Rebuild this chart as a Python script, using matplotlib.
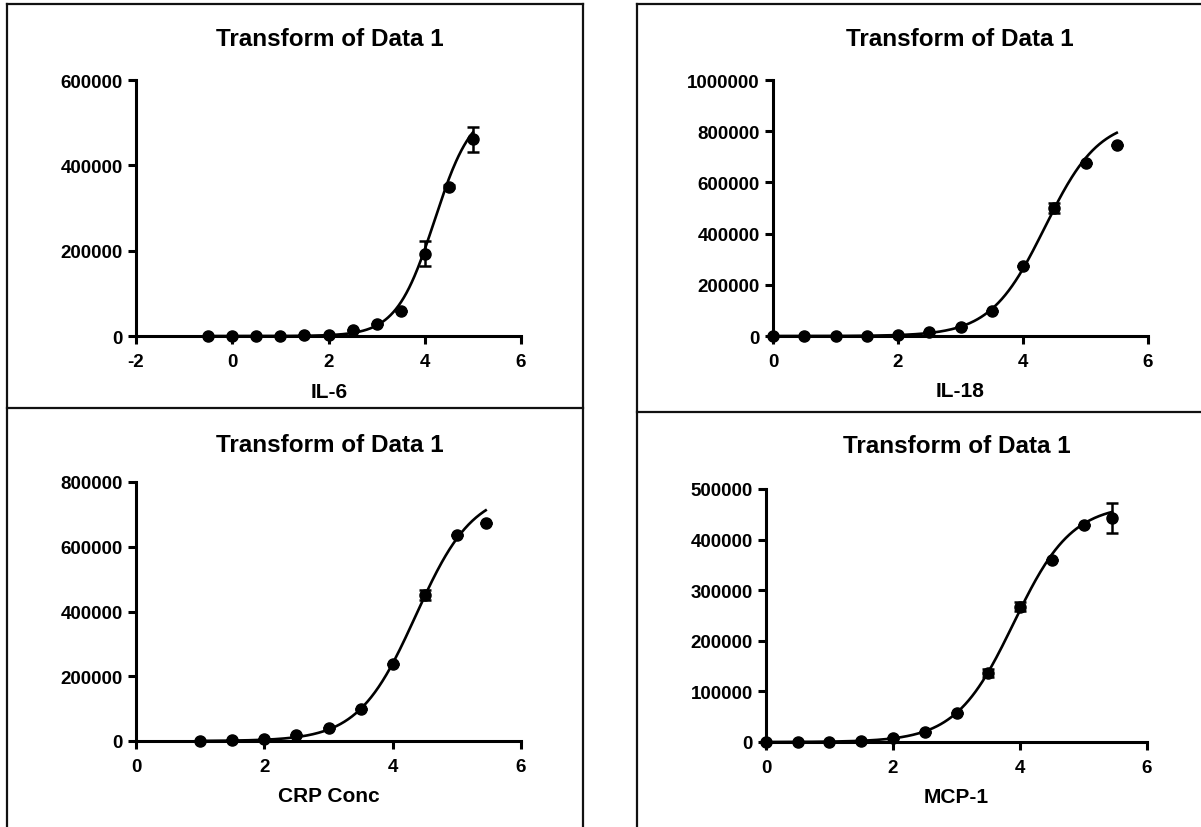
import numpy as np
import matplotlib
matplotlib.use('Agg')
import matplotlib.pyplot as plt
from matplotlib.lines import Line2D

plt.rcParams['font.family'] = ['Liberation Sans', 'DejaVu Sans']
plt.rcParams['font.weight'] = 'bold'

# ---------------- data ----------------
title_text = "Transform of Data 1"

il6_x = [-0.5, 0, 0.5, 1, 1.5, 2, 2.5, 3, 3.5, 4, 4.5, 5]
il6_y = [300, 400, 600, 900, 1500, 3500, 14000, 28000, 58000, 193000, 350000, 461000]
il6_err = [0, 0, 0, 0, 0, 0, 0, 0, 0, 30000, 4000, 30000]
il6_fit = dict(bottom=0, top=540000, logec50=4.2, hill=1.1)

il18_x = [0, 0.5, 1, 1.5, 2, 2.5, 3, 3.5, 4, 4.5, 5, 5.5]
il18_y = [200, 300, 500, 1000, 3000, 14000, 36000, 99000, 273000, 500000, 676000, 746000]
il18_err = [0, 0, 0, 0, 0, 0, 0, 0, 0, 18000, 0, 0]
il18_fit = dict(bottom=0, top=850000, logec50=4.35, hill=1.0)

crp_x = [1, 1.5, 2, 2.5, 3, 3.5, 4, 4.5, 5, 5.45]
crp_y = [1000, 2500, 6000, 18000, 40000, 99000, 237000, 450000, 636000, 674000]
crp_err = [0, 0, 0, 0, 0, 0, 0, 16000, 0, 0]
crp_fit = dict(bottom=0, top=775000, logec50=4.36, hill=0.97)

mcp1_x = [0, 0.5, 1, 1.5, 2, 2.5, 3, 3.5, 4, 4.5, 5, 5.45]
mcp1_y = [200, 400, 700, 2500, 8000, 20000, 58000, 136000, 267000, 360000, 429000, 443000]
mcp1_err = [0, 0, 0, 0, 0, 0, 0, 8000, 9000, 0, 0, 30000]
mcp1_fit = dict(bottom=0, top=470000, logec50=3.9, hill=0.95)

panels = [
    dict(x=il6_x, y=il6_y, err=il6_err, fit=il6_fit, xlabel="IL-6", xlim=(-2, 6), xticks=[-2, 0, 2, 4, 6],
         ylim=(0, 600000), yticks=[0, 200000, 400000, 600000],
         px=(136, 521, 337, 81), title_pos=(330, 40), xlabel_pos=(329, 393)),
    dict(x=il18_x, y=il18_y, err=il18_err, fit=il18_fit, xlabel="IL-18", xlim=(0, 6), xticks=[0, 2, 4, 6],
         ylim=(0, 1000000), yticks=[0, 200000, 400000, 600000, 800000, 1000000],
         px=(773, 1148, 337, 81), title_pos=(960, 40), xlabel_pos=(960, 392)),
    dict(x=crp_x, y=crp_y, err=crp_err, fit=crp_fit, xlabel="CRP Conc", xlim=(0, 6), xticks=[0, 2, 4, 6],
         ylim=(0, 800000), yticks=[0, 200000, 400000, 600000, 800000],
         px=(136, 521, 742, 483), title_pos=(330, 445), xlabel_pos=(329, 797)),
    dict(x=mcp1_x, y=mcp1_y, err=mcp1_err, fit=mcp1_fit, xlabel="MCP-1", xlim=(0, 6), xticks=[0, 2, 4, 6],
         ylim=(0, 500000), yticks=[0, 100000, 200000, 300000, 400000, 500000],
         px=(766, 1147, 743, 490), title_pos=(957, 447), xlabel_pos=(956, 798)),
]

W, H = 1201, 828


def four_pl(xs, bottom, top, logec50, hill):
    return bottom + (top - bottom) / (1.0 + 10 ** ((logec50 - xs) * hill))


fig = plt.figure(figsize=(W / 100, H / 100), dpi=100)

lw_axis = 2.2
for p in panels:
    x0, x1, yb, yt = p['px']
    ax = fig.add_axes([x0 / W, 1 - yb / H, (x1 - x0) / W, (yb - yt) / H])
    xs = np.linspace(min(p['x']), max(p['x']), 300)
    ax.plot(xs, four_pl(xs, **p['fit']), color='black', lw=1.9, zorder=3, clip_on=False)
    ax.errorbar(p['x'], p['y'], yerr=p['err'], fmt='o', color='black', ms=8,
                elinewidth=1.8, capsize=4.5, capthick=1.8, zorder=4, clip_on=False)
    ax.set_xlim(*p['xlim'])
    ax.set_ylim(*p['ylim'])
    ax.set_xticks(p['xticks'])
    ax.set_yticks(p['yticks'])
    ax.set_xticklabels([str(t) for t in p['xticks']])
    ax.set_yticklabels([str(t) for t in p['yticks']])
    for s in ('top', 'right'):
        ax.spines[s].set_visible(False)
    for s in ('left', 'bottom'):
        ax.spines[s].set_linewidth(lw_axis)
        ax.spines[s].set_capstyle('projecting')
    ax.tick_params(axis='both', direction='out', length=6, width=lw_axis,
                   labelsize=13.5, colors='black')
    ax.tick_params(axis='x', pad=6)
    ax.tick_params(axis='y', pad=3.5)
    for lab in ax.get_xticklabels() + ax.get_yticklabels():
        lab.set_fontweight('bold')
    ax.patch.set_alpha(0)
    tx, ty = p['title_pos']
    fig.text(tx / W, 1 - ty / H, title_text, ha='center', va='center',
             fontsize=17.5, fontweight='bold')
    lx, ly = p['xlabel_pos']
    fig.text(lx / W, 1 - ly / H, p['xlabel'], ha='center', va='center',
             fontsize=15, fontweight='bold')

# panel frame lines (pixel coordinates)
frame_lines = [
    ((7, 7), (5, 828)), ((7, 583), (5, 5)), ((583, 583), (5, 828)), ((7, 583), (409, 409)),
    ((637, 637), (5, 828)), ((637, 1201), (5, 5)), ((637, 1201), (413, 413)),
]
for (xa, xb), (ya, yb) in frame_lines:
    fig.add_artist(Line2D([xa / W, xb / W], [1 - ya / H, 1 - yb / H],
                          transform=fig.transFigure, color='#111111', lw=1.6))

fig.savefig('out.png', dpi=100)
